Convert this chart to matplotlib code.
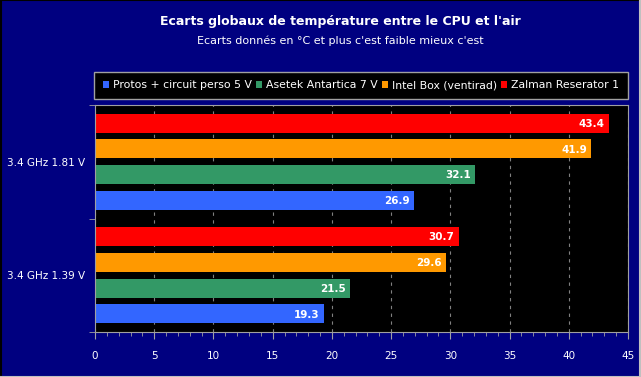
import matplotlib
matplotlib.use("Agg")
import matplotlib.pyplot as plt
from matplotlib.lines import Line2D
from matplotlib.patches import Patch

categories = ["3.4 GHz 1.39 V", "3.4 GHz 1.81 V"]
series_names = ["Protos + circuit perso 5 V", "Asetek Antartica 7 V",
                "Intel Box (ventirad)", "Zalman Reserator 1"]
protos = [19.3, 26.9]
asetek = [21.5, 32.1]
intel = [29.6, 41.9]
zalman = [30.7, 43.4]
series_values = [protos, asetek, intel, zalman]
colors = ["#3366FF", "#339966", "#FF9900", "#FF0000"]
title = "Ecarts globaux de température entre le CPU et l'air"
subtitle = "Ecarts donnés en °C et plus c'est faible mieux c'est"

BG = "#000080"
W, H = 641, 377
fig = plt.figure(figsize=(W / 100, H / 100), dpi=100, facecolor=BG)
ax = fig.add_axes([95 / W, 1 - 332 / H, (628 - 95) / W, (332 - 105) / H])
ax.set_facecolor("black")

step = 0.227
bh = 0.168
offsets = [1.5 * step, 0.5 * step, -0.5 * step, -1.5 * step]
for vals, col, off, name in zip(series_values, colors, offsets, series_names):
    ys = [i - off for i in range(len(categories))]
    ax.barh(ys, vals, height=bh, color=col, label=name, zorder=2)
    for y, v in zip(ys, vals):
        ax.annotate(f"{v:.1f}", (v, y), xytext=(-3, -0.5), textcoords="offset points",
                    ha="right", va="center", color="white", fontsize=7.5,
                    fontweight="bold", zorder=3)

ax.set_xlim(0, 45)
ax.set_ylim(-0.5, len(categories) - 0.5)
ax.set_xticks(range(0, 46, 5))
ax.set_xticks(range(0, 46, 1), minor=True)
ax.set_yticks(range(len(categories)))
ax.set_yticklabels(categories)
ax.set_yticks([-0.5, 0.5, 1.5], minor=True)
ax.tick_params(axis="y", which="major", length=0, pad=7, colors="white", labelsize=7.5)
ax.tick_params(axis="y", which="minor", length=4, color="#A0A0A0")
ax.tick_params(axis="x", which="major", length=5, color="#A0A0A0", labelcolor="white",
               labelsize=7.5, pad=9)
ax.tick_params(axis="x", which="minor", length=3, color="#A0A0A0")
ax.grid(axis="x", which="major", color="#808080", linestyle=(0, (3, 4)), linewidth=0.8, zorder=1)
for s in ax.spines.values():
    s.set_color("#A0A0A0")

fig.text(340 / W, 1 - 21 / H, title, ha="center", va="center", color="white",
         fontsize=9, fontweight="bold")
fig.text(340 / W, 1 - 41 / H, subtitle, ha="center", va="center", color="white",
         fontsize=8)

handles = [Patch(facecolor=c, edgecolor="none") for c in colors]
leg = fig.legend(handles, series_names, ncol=4, loc="lower left", mode="expand",
                 bbox_to_anchor=(94 / W, 1 - 99 / H, (628 - 94) / W, 28 / H),
                 frameon=True, fancybox=False,
                 facecolor="black", edgecolor="#A0A0A0", labelcolor="white",
                 fontsize=7.8, handlelength=0.55, handleheight=0.55, handletextpad=0.4,
                 columnspacing=0.7, borderpad=0.8, borderaxespad=0)
leg.get_frame().set_linewidth(1)
leg.get_frame().set_alpha(1)

fig.add_artist(Line2D([0, 1], [0.999, 0.999], color="black", lw=1.5, transform=fig.transFigure))
fig.add_artist(Line2D([0.001, 0.001], [0, 1], color="black", lw=1.5, transform=fig.transFigure))
fig.add_artist(Line2D([0.999, 0.999], [0, 1], color="#C0C0C0", lw=1.5, transform=fig.transFigure))
fig.add_artist(Line2D([0, 1], [0.001, 0.001], color="#C0C0C0", lw=1.5, transform=fig.transFigure))

fig.savefig("out.png", dpi=100, facecolor=BG)
